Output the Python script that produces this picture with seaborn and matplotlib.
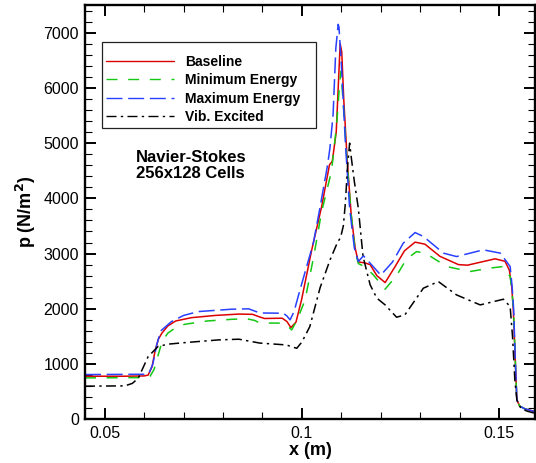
import matplotlib
matplotlib.use("Agg")
import matplotlib.pyplot as plt
from matplotlib.patches import Rectangle
from matplotlib.ticker import MultipleLocator, FormatStrFormatter
import numpy as np
import pandas as pd
import seaborn as sns

# Wall pressure distributions along x for four thermochemical models
x_base = [0.045, 0.055, 0.0600, 0.0610, 0.0620, 0.0628, 0.0636, 0.0645, 0.0660, 0.0680,
          0.0720, 0.0780, 0.0840, 0.0875, 0.0890, 0.0905, 0.0950, 0.0962, 0.0972, 0.0985,
          0.0999, 0.1025, 0.1050, 0.1070, 0.1077, 0.1087, 0.1092, 0.1097, 0.1101, 0.1106,
          0.1115, 0.1125, 0.1135, 0.1143, 0.1160, 0.1173, 0.1190, 0.1211, 0.1235, 0.1260,
          0.1287, 0.1312, 0.1350, 0.1397, 0.1420, 0.1450, 0.1490, 0.1515, 0.1526, 0.1532,
          0.1536, 0.1541, 0.1545, 0.1552, 0.1565, 0.1590]
p_base = [780, 780, 785, 800, 950, 1250, 1450, 1560, 1690, 1780,
          1840, 1880, 1905, 1900, 1860, 1825, 1830, 1770, 1660, 1760,
          2160, 3070, 3850, 4610, 4670, 5200, 6000, 6800, 6650, 5800,
          4670, 3700, 3100, 2850, 2830, 2800, 2600, 2475, 2750, 3050,
          3207, 3170, 2950, 2800, 2790, 2840, 2905, 2860, 2700, 2400,
          1980, 1075, 350, 240, 190, 140]

x_min = [0.045, 0.0600, 0.0615, 0.0625, 0.0635, 0.0645, 0.0660, 0.0680, 0.0703, 0.0760,
         0.0822, 0.0860, 0.0880, 0.0893, 0.0950, 0.0962, 0.0974, 0.0988, 0.1008, 0.1030,
         0.1050, 0.1075, 0.1088, 0.1096, 0.1099, 0.1105, 0.1115, 0.1125, 0.1135, 0.1143,
         0.1160, 0.1181, 0.1211, 0.1240, 0.1265, 0.1291, 0.1315, 0.1367, 0.1426, 0.1480,
         0.1510, 0.1528, 0.1533, 0.1537, 0.1541, 0.1545, 0.1552, 0.1565, 0.1590]
p_min = [750, 755, 780, 900, 1150, 1400, 1560, 1660, 1720, 1780,
         1810, 1820, 1790, 1745, 1740, 1700, 1618, 1800, 2160, 2950,
         3760, 4490, 5330, 6120, 6300, 5700, 4600, 3700, 3050, 2820,
         2760, 2615, 2356, 2600, 2900, 3037, 3000, 2765, 2675, 2740,
         2765, 2584, 2300, 1900, 1075, 350, 240, 190, 140]

x_max = [0.045, 0.0600, 0.0612, 0.0622, 0.0632, 0.0642, 0.0669, 0.0700, 0.0737, 0.0822,
         0.0865, 0.0880, 0.0893, 0.0953, 0.0962, 0.0970, 0.0980, 0.0995, 0.1029, 0.1045,
         0.1065, 0.1071, 0.1079, 0.1086, 0.1092, 0.1094, 0.1100, 0.1111, 0.1121, 0.1133,
         0.1143, 0.1156, 0.1173, 0.1200, 0.1230, 0.1257, 0.1287, 0.1308, 0.1359, 0.1392,
         0.1460, 0.1503, 0.1528, 0.1533, 0.1537, 0.1541, 0.1545, 0.1552, 0.1565, 0.1590]
p_max = [810, 815, 830, 1000, 1350, 1600, 1768, 1880, 1950, 1993,
         2000, 1960, 1925, 1920, 1870, 1800, 1950, 2340, 3190, 3800,
         4600, 4910, 5510, 6720, 7150, 7100, 6420, 4910, 3820, 3100,
         2856, 2960, 2826, 2610, 2850, 3189, 3381, 3309, 3008, 2946,
         3068, 3008, 2765, 2400, 1980, 1075, 350, 240, 190, 140]

x_vib = [0.045, 0.0551, 0.0570, 0.0585, 0.0610, 0.0635, 0.0660, 0.0703, 0.0788, 0.0840,
         0.0893, 0.0961, 0.0975, 0.0987, 0.1000, 0.1020, 0.1046, 0.1071, 0.1090, 0.1098,
         0.1105, 0.1110, 0.1116, 0.1121, 0.1125, 0.1133, 0.1143, 0.1155, 0.1173, 0.1190,
         0.1211, 0.1240, 0.1261, 0.1308, 0.1346, 0.1392, 0.1452, 0.1511, 0.1528, 0.1534,
         0.1540, 0.1545, 0.1555, 0.1570, 0.1590]
p_vib = [600, 605, 650, 743, 1134, 1316, 1360, 1388, 1437, 1450,
         1380, 1346, 1310, 1286, 1400, 1678, 2380, 2880, 3200, 3290,
         3500, 3900, 4600, 5000, 4750, 4300, 3823, 2946, 2434, 2193,
         2071, 1848, 1890, 2374, 2493, 2252, 2071, 2174, 2040, 1500,
         700, 350, 200, 150, 110]

labels = ["Baseline", "Minimum Energy", "Maximum Energy", "Vib. Excited"]
colors = ["#dc0000", "#14c814", "#2840ff", "#000000"]
dash_styles = [None, (7.9, 7.7), (11.5, 4.1), (7.2, 3.1, 1.7, 3.1)]

sns.set_style("ticks")
plt.rcParams["font.family"] = ["Liberation Sans", "DejaVu Sans"]
plt.rcParams["lines.scale_dashes"] = False
plt.rcParams["text.color"] = "black"
plt.rcParams["axes.labelcolor"] = "black"
plt.rcParams["xtick.color"] = "black"
plt.rcParams["ytick.color"] = "black"

fig = plt.figure(figsize=(5.36, 4.63), dpi=100)
ax = fig.add_axes([85 / 536, (463 - 419.3) / 463, (535 - 85) / 536, (419.3 - 5) / 463])

series = [(x_base, p_base), (x_min, p_min), (x_max, p_max), (x_vib, p_vib)]
for (xs, ps), lab, col, ds in zip(series, labels, colors, dash_styles):
    df = pd.DataFrame({"x": xs, "p": ps})
    sns.lineplot(data=df, x="x", y="p", ax=ax, color=col, lw=1.1,
                 label=lab, errorbar=None, sort=False, legend=False)
    line = ax.get_lines()[-1]
    if ds is not None:
        line.set_dashes(ds)

ax.set_xlim(0.045, 0.1591)
ax.set_ylim(0, 7500)
ax.xaxis.set_major_locator(MultipleLocator(0.05))
ax.xaxis.set_minor_locator(MultipleLocator(0.01))
ax.xaxis.set_major_formatter(FormatStrFormatter("%g"))
ax.yaxis.set_major_locator(MultipleLocator(1000))
ax.yaxis.set_minor_locator(MultipleLocator(200))

ax.tick_params(which="both", direction="in", top=True, right=True, colors="black")
ax.tick_params(which="major", length=8, width=1.4, labelsize=11.5, pad=4.5)
ax.tick_params(which="minor", length=4.8, width=0.8)
for sp in ax.spines.values():
    sp.set_visible(True)
    sp.set_linewidth(1.7)
    sp.set_color("black")

ax.set_xlabel("x (m)", fontsize=13, fontweight="bold", labelpad=1)
ax.set_ylabel("p (N/m$^\\mathbf{2}$)", fontsize=13, fontweight="bold", labelpad=4)

# Legend frame and entries
ax.add_patch(Rectangle(((101.7 - 85) / 450, (419.3 - 127.7) / 414.3),
                       (315.7 - 101.7) / 450, (127.7 - 41.7) / 414.3,
                       transform=ax.transAxes, facecolor="white",
                       edgecolor="#222222", lw=0.9, zorder=4))
handles, labs = ax.get_legend_handles_labels()
leg = ax.legend(handles, labs, loc="upper left",
                bbox_to_anchor=((107.3 - 85) / 450 - 0.012, (419.3 - 51) / 414.3),
                frameon=False, fontsize=10, handlelength=4.9, handletextpad=0.8,
                labelspacing=0.3, borderpad=0.3, borderaxespad=0)
leg.set_zorder(5)
for t in leg.get_texts():
    t.set_fontweight("bold")
for h in leg.get_lines():
    h.set_linewidth(1.0)

ax.text((135.7 - 85) / 450, (419.3 - 150) / 414.3, "Navier-Stokes\n256x128 Cells",
        transform=ax.transAxes, ha="left", va="top", fontsize=12,
        fontweight="bold", linespacing=1.05)

fig.savefig("out.png", dpi=100)
